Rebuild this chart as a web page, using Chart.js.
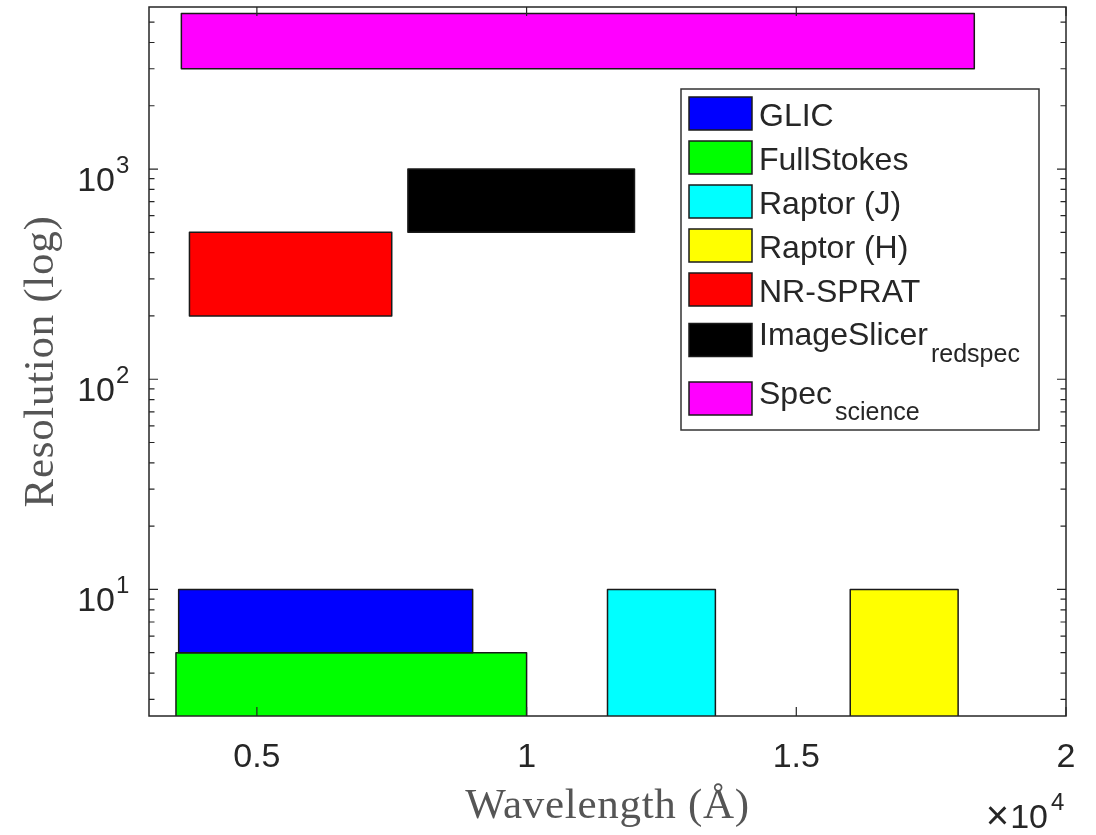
<!DOCTYPE html>
<html>
<head>
<meta charset="utf-8">
<script src="https://cdn.jsdelivr.net/npm/chart.js@4.4.1/dist/chart.umd.min.js"></script>
<style>
  html, body { margin: 0; padding: 0; background: #fff; }
  canvas { display: block; }
</style>
</head>
<body>
<canvas id="resChart" width="1096" height="835"></canvas>
<script>
// instrument coverage: wavelength range (Angstrom) x resolution range
const instruments = ['GLIC', 'FullStokes', 'Raptor (J)', 'Raptor (H)', 'NR-SPRAT', 'ImageSlicer', 'Spec'];
const subscripts = ['', '', '', '', '', 'redspec', 'science'];
const colors = ['#0000ff', '#00ff00', '#00ffff', '#ffff00', '#ff0000', '#000000', '#ff00ff'];
const waveMin = [3550, 3500, 11500, 16000, 3750, 7800, 3600];
const waveMax = [9000, 10000, 13500, 18000, 7500, 12000, 18300];
const resMin = [5, 1, 1, 1, 200, 500, 3000];
const resMax = [10, 5, 10, 10, 500, 1000, 5500];

const xTicks = [5000, 10000, 15000, 20000];
const xTickLabels = ['0.5', '1', '1.5', '2'];
const yTicks = [10, 100, 1000];
const yTickExp = ['1', '2', '3'];
const yMinorTicks = [3, 4, 5, 6, 7, 8, 9, 20, 30, 40, 50, 60, 70, 80, 90,
    200, 300, 400, 500, 600, 700, 800, 900, 2000, 3000, 4000, 5000];

const axisColor = '#262626';
const sansFamily = '"Liberation Sans", Arial, Helvetica, sans-serif';
const serifFamily = '"Liberation Serif", "Times New Roman", serif';

function boxPoints(i) {
    return [
        { x: waveMin[i], y: resMin[i] },
        { x: waveMax[i], y: resMin[i] },
        { x: waveMax[i], y: resMax[i] },
        { x: waveMin[i], y: resMax[i] },
        { x: waveMin[i], y: resMin[i] }
    ];
}

const datasets = instruments.map((name, i) => ({
    label: name + subscripts[i],
    data: boxPoints(i),
    showLine: true,
    fill: 'shape',
    backgroundColor: colors[i],
    borderColor: '#1a1a1a',
    borderWidth: 1.5,
    borderJoinStyle: 'round',
    pointRadius: 0,
    tension: 0,
    clip: 0
}));

function drawLegend(ctx, area) {
    const box = { left: area.left + 532, top: area.top + 82, right: area.right - 27, bottom: area.top + 423 };
    ctx.fillStyle = '#fff';
    ctx.fillRect(box.left, box.top, box.right - box.left, box.bottom - box.top);
    ctx.strokeStyle = '#333';
    ctx.lineWidth = 1.5;
    ctx.strokeRect(box.left, box.top, box.right - box.left, box.bottom - box.top);

    let cy = box.top + 24.5;
    instruments.forEach((name, i) => {
        if (i > 0) {
            cy += 44 + (subscripts[i - 1] ? 8 : 0) + (subscripts[i] ? 6.5 : 0);
        }
        ctx.fillStyle = colors[i];
        ctx.fillRect(box.left + 8, cy - 16.5, 63, 33);
        ctx.strokeStyle = '#1a1a1a';
        ctx.lineWidth = 1.5;
        ctx.strokeRect(box.left + 8, cy - 16.5, 63, 33);

        ctx.fillStyle = axisColor;
        ctx.textAlign = 'left';
        ctx.textBaseline = 'alphabetic';
        ctx.font = '32px ' + sansFamily;
        const tx = box.left + 78;
        if (subscripts[i]) {
            ctx.fillText(name, tx, cy + 5);
            const w = ctx.measureText(name).width;
            ctx.font = '25px ' + sansFamily;
            ctx.fillText(subscripts[i], tx + w + 3, cy + 21.5);
        } else {
            ctx.fillText(name, tx, cy + 12.5);
        }
    });
}

const matlabAxes = {
    id: 'matlabAxes',
    afterDraw(chart) {
        const { ctx, chartArea: a, scales: { x, y } } = chart;
        ctx.save();

        // inward tick marks on all four sides
        ctx.strokeStyle = axisColor;
        ctx.lineWidth = 1.2;
        ctx.beginPath();
        xTicks.forEach(v => {
            const px = x.getPixelForValue(v);
            ctx.moveTo(px, a.bottom); ctx.lineTo(px, a.bottom - 9);
            ctx.moveTo(px, a.top); ctx.lineTo(px, a.top + 9);
        });
        yTicks.forEach(v => {
            const py = y.getPixelForValue(v);
            ctx.moveTo(a.left, py); ctx.lineTo(a.left + 9, py);
            ctx.moveTo(a.right, py); ctx.lineTo(a.right - 9, py);
        });
        yMinorTicks.forEach(v => {
            const py = y.getPixelForValue(v);
            ctx.moveTo(a.left, py); ctx.lineTo(a.left + 5.5, py);
            ctx.moveTo(a.right, py); ctx.lineTo(a.right - 5.5, py);
        });
        ctx.stroke();

        // axes box
        ctx.lineWidth = 1.5;
        ctx.strokeRect(a.left, a.top, a.right - a.left, a.bottom - a.top);

        // x tick labels
        ctx.fillStyle = axisColor;
        ctx.textBaseline = 'alphabetic';
        ctx.textAlign = 'center';
        ctx.font = '34px ' + sansFamily;
        xTicks.forEach((v, i) => {
            ctx.fillText(xTickLabels[i], x.getPixelForValue(v), a.bottom + 51);
        });

        // y tick labels 10^n
        yTicks.forEach((v, i) => {
            const py = y.getPixelForValue(v);
            ctx.font = '34px ' + sansFamily;
            ctx.textAlign = 'right';
            ctx.fillText('10', a.left - 34, py + 21.5);
            ctx.font = '24px ' + sansFamily;
            ctx.textAlign = 'left';
            ctx.fillText(yTickExp[i], a.left - 33, py + 3.5);
        });

        // x10^4 multiplier
        ctx.font = '34px ' + sansFamily;
        ctx.textAlign = 'right';
        ctx.fillText('10', a.right - 18, a.bottom + 112);
        ctx.font = '40px ' + sansFamily;
        ctx.fillText('\u00d7', a.right - 57, a.bottom + 113);
        ctx.font = '24px ' + sansFamily;
        ctx.textAlign = 'left';
        ctx.fillText('4', a.right - 15, a.bottom + 94);

        // axis titles
        ctx.fillStyle = '#555';
        ctx.font = '43px ' + serifFamily;
        ctx.letterSpacing = '0.7px';
        ctx.textAlign = 'center';
        ctx.fillText('Wavelength (\u00c5)', (a.left + a.right) / 2, a.bottom + 102);
        ctx.translate(53, (a.top + a.bottom) / 2);
        ctx.rotate(-Math.PI / 2);
        ctx.fillText('Resolution (log)', 0, 0);
        ctx.setTransform(1, 0, 0, 1, 0, 0);
        ctx.letterSpacing = '0px';

        drawLegend(ctx, a);
        ctx.restore();
    }
};

const chart = new Chart(document.getElementById('resChart').getContext('2d'), {
    type: 'scatter',
    data: { datasets: datasets },
    options: {
        responsive: false,
        animation: false,
        devicePixelRatio: 1,
        layout: { padding: { left: 149, top: 7, right: 30, bottom: 119 } },
        plugins: {
            legend: { display: false },
            tooltip: { enabled: false }
        },
        scales: {
            x: { type: 'linear', display: false, min: 3000, max: 20000 },
            y: { type: 'logarithmic', display: false, min: 2.5, max: 5900 }
        }
    },
    plugins: [matlabAxes]
});
</script>
</body>
</html>
